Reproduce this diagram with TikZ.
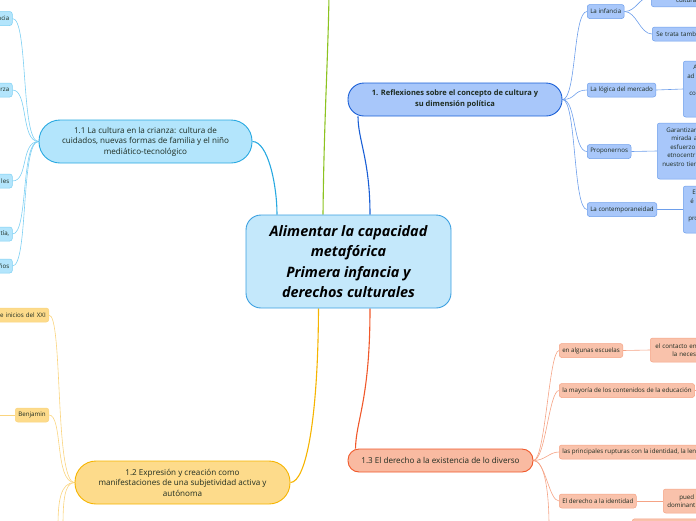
\documentclass[tikz,border=0pt]{standalone}
\usepackage{fontspec}
\setmainfont{Open Sans}
\usepackage{xcolor}
\usetikzlibrary{positioning, backgrounds}

\definecolor{rootfill}{HTML}{C4E8FB}
\definecolor{rootline}{HTML}{3A9FE0}
\definecolor{cyanfill}{HTML}{B3E5FC}
\definecolor{cyanline}{HTML}{29A9E1}
\definecolor{cyansoft}{HTML}{7ED0F3}
\definecolor{bluefill}{HTML}{A8C7FA}
\definecolor{blueline}{HTML}{1A5FD6}
\definecolor{bluesoft}{HTML}{6D9EEB}
\definecolor{yelfill}{HTML}{FDDB8B}
\definecolor{yelline}{HTML}{F6B400}
\definecolor{yelsoft}{HTML}{FAD47E}
\definecolor{redfill}{HTML}{F9BAA1}
\definecolor{redsub}{HTML}{F9C2AB}
\definecolor{redline}{HTML}{F0582A}
\definecolor{redsoft}{HTML}{F5A385}
\definecolor{greenline}{HTML}{8CC320}
\definecolor{ink}{HTML}{1D2B20}

\begin{document}
\begin{tikzpicture}[
  x=1pt, y=-1pt,
  root/.style={draw=rootline, fill=rootfill, line width=0.9pt, rounded corners=15pt, minimum width=205pt, minimum height=93pt, inner sep=0pt, align=center, text=black, font=\fontsize{14.4}{20.5}\selectfont\bfseries\itshape},
  topic/.style={line width=0.9pt, inner sep=0pt, align=center, text=ink, font=\fontsize{8.1}{10.5}\selectfont},
  sub/.style={line width=0.5pt, rounded corners=2.5pt, minimum height=14pt, inner xsep=3pt, inner ysep=0pt, text=ink, font=\fontsize{6.2}{8.5}\selectfont},
  leaf/.style={sub, align=left, inner xsep=4pt},
  link/.style={line width=0.6pt},
  mainlink/.style={line width=1.1pt}
]
\useasboundingbox (0,0) rectangle (696,520);
\clip (0,0) rectangle (696,520);

% central topic and main topics
\node[root] (root) at (348.5,261.5) {Alimentar la capacidad\\metafórica\\Primera infancia y\\derechos culturales};
\node[topic, draw=cyanline, fill=cyanfill, minimum width=213pt, minimum height=43pt, rounded corners=21pt] (crianza) at (145.5,141.5) {1.1 La cultura en la crianza: cultura de\\cuidados, nuevas formas de familia y el niño\\mediático-tecnológico};
\node[topic, draw=blueline, fill=bluefill, minimum width=214pt, minimum height=33pt, rounded corners=16pt, font=\fontsize{7.5}{11}\selectfont\bfseries] (reflex) at (455,99.5) {1. Reflexiones sobre el concepto de cultura y\\su dimensión política};
\node[topic, draw=yelline, fill=yelfill, minimum width=215pt, minimum height=43pt, rounded corners=21pt] (expresion) at (182.5,482.5) {1.2 Expresión y creación como\\manifestaciones de una subjetividad activa y\\autónoma};
\node[topic, draw=redline, fill=redfill, minimum width=185pt, minimum height=23pt, rounded corners=11pt] (diverso) at (440.5,460.5) {1.3 El derecho a la existencia de lo diverso};

% 1.1
\node[sub, draw=cyansoft, fill=cyanfill, anchor=east, text width=30pt, align=right] (c1) at (12.5,18.5) {ncia};
\node[sub, draw=cyansoft, fill=cyanfill, anchor=east, text width=30pt, align=right] (c2) at (12.5,90) {rza};
\node[sub, draw=cyansoft, fill=cyanfill, anchor=east, text width=30pt, align=right] (c3) at (12.5,181) {les};
\node[sub, draw=cyansoft, fill=cyanfill, anchor=east, text width=30pt, align=right] (c4) at (12.5,234) {tía,};
\node[sub, draw=cyansoft, fill=cyanfill, anchor=east, text width=30pt, align=right] (c5) at (12.5,266) {ños};

% 1.
\node[sub, draw=bluesoft, fill=bluefill, anchor=west] (infancia) at (587,11.5) {La infancia};
\node[sub, draw=bluesoft, fill=bluefill, anchor=west] (mercado) at (587,90) {La lógica del mercado};
\node[sub, draw=bluesoft, fill=bluefill, anchor=west] (proponer) at (587,151.5) {Proponernos};
\node[sub, draw=bluesoft, fill=bluefill, anchor=west] (contemp) at (587,209.5) {La contemporaneidad};
\node[leaf, draw=bluesoft, fill=bluefill, anchor=south west, text width=62pt, align=center, text height=16pt, text depth=4pt] (cultleaf) at (651,7) {cultura};
\node[leaf, draw=bluesoft, fill=bluefill, anchor=west, text width=50pt] (tambleaf) at (652,34) {Se trata tambi};
\node[leaf, draw=bluesoft, fill=bluefill, anchor=west, text width=50pt, minimum height=56pt] (mercleaf) at (683,89) {\hspace{6pt}A\\ad\\\mbox{}\\\hspace{2pt}co\\\mbox{}\\\mbox{}};
\node[leaf, draw=bluesoft, fill=bluefill, anchor=west, text width=50pt, minimum height=56pt] (propleaf) at (657,151) {\hspace{5pt}Garantizar\\\hspace{10pt}mirada a\\\hspace{9pt}esfuerzo\\\hspace{6pt}etnocentr\\\hspace{1pt}nuestro tiem\\\mbox{}};
\node[leaf, draw=bluesoft, fill=bluefill, anchor=west, text width=50pt, minimum height=47pt] (contleaf) at (683,209.5) {\hspace{5pt}E\\\hspace{3pt}é\\\mbox{}\\\hspace{1pt}pro\\\mbox{}};

% 1.2
\node[sub, draw=yelsoft, fill=yelfill, anchor=east, text width=60pt, align=right] (siglo) at (49,315) {X e inicios del XXI};
\node[sub, draw=yelsoft, fill=yelfill, anchor=east] (benjamin) at (49,415) {Benjamin};

% 1.3
\node[sub, draw=redsoft, fill=redsub, anchor=west] (escuelas) at (559,350.5) {en algunas escuelas};
\node[sub, draw=redsoft, fill=redsub, anchor=west] (mayoria) at (559,390.5) {la mayoría de los contenidos de la educación};
\node[sub, draw=redsoft, fill=redsub, anchor=west] (rupturas) at (559,452) {las principales rupturas con la identidad, la leng};
\node[sub, draw=redsoft, fill=redsub, anchor=west] (identidad) at (559,501) {El derecho a la identidad};
\node[leaf, draw=redsoft, fill=redsub, anchor=west, text width=50pt, minimum height=24pt] (escleaf) at (650,350) {\hspace{1pt}el contacto ent\\\hspace{18pt}la neces};
\node[leaf, draw=redsoft, fill=redsub, anchor=west, text width=50pt, minimum height=24pt] (idleaf) at (663,501) {\hspace{12pt}pued\\dominant};
\node[sub, draw=redsoft, fill=redsub, anchor=north west, minimum width=80pt, minimum height=20pt] (lastleaf) at (632,518.5) {};

\coordinate (offtop) at (329,-5);
\coordinate (offleft) at (-5,415);
\coordinate (offright) at (702,390.5);
\coordinate (ydown1) at (58,526);
\coordinate (ydown2) at (63,526);
\coordinate (rdown) at (549,526);

\begin{pgfonlayer}{background}
\draw[mainlink, cyanline] (crianza.east) .. controls (268,141.5) and (277,185) .. ([xshift=-71.5pt]root.north);
\draw[mainlink, greenline] ([xshift=-25.5pt]root.north) .. controls (324,120) and (328,60) .. (offtop);
\draw[mainlink, blueline] ([xshift=21.5pt]root.north) .. controls (370,160) and (358,140) .. ([xshift=-97pt]reflex.south);
\draw[mainlink, yelline] ([xshift=-30pt]root.south) .. controls (318,420) and (306,482) .. (expresion.east);
\draw[mainlink, redline] ([xshift=21.5pt]root.south) .. controls (370,400) and (356,420) .. ([xshift=-85pt]diverso.north);

\foreach \n in {c1,c2,c3,c4,c5}
  \draw[link, cyansoft] (crianza.west) .. controls +(-18,0) and +(16,0) .. (\n.east);

\foreach \n in {infancia,mercado,proponer,contemp}
  \draw[link, bluesoft] (reflex.east) .. controls +(14,0) and +(-14,0) .. (\n.west);
\draw[link, bluesoft] (infancia.east) .. controls +(12,0) and +(-12,0) .. (cultleaf.west);
\draw[link, bluesoft] (infancia.east) .. controls +(12,0) and +(-12,0) .. (tambleaf.west);
\draw[link, bluesoft] (mercado.east) -- (mercleaf.west);
\draw[link, bluesoft] (proponer.east) -- (propleaf.west);
\draw[link, bluesoft] (contemp.east) -- (contleaf.west);

\foreach \n in {siglo,benjamin}
  \draw[link, yelsoft] (expresion.west) .. controls +(-20,0) and +(14,0) .. (\n.east);
\draw[link, yelsoft] (benjamin.west) -- (offleft);
\draw[link, yelsoft] (expresion.west) .. controls +(-14,0) and +(0,-25) .. (ydown1);
\draw[link, yelsoft] (expresion.west) .. controls +(-10,0) and +(0,-25) .. (ydown2);

\foreach \n in {escuelas,mayoria,rupturas,identidad}
  \draw[link, redsoft] (diverso.east) .. controls +(12,0) and +(-10,0) .. (\n.west);
\draw[link, redsoft] (diverso.east) .. controls +(12,0) and +(0,-30) .. (rdown);
\draw[link, redsoft] (escuelas.east) -- (escleaf.west);
\draw[link, redsoft] (mayoria.east) -- (offright);
\draw[link, redsoft] (identidad.east) -- (idleaf.west);
\end{pgfonlayer}
\end{tikzpicture}
\end{document}
